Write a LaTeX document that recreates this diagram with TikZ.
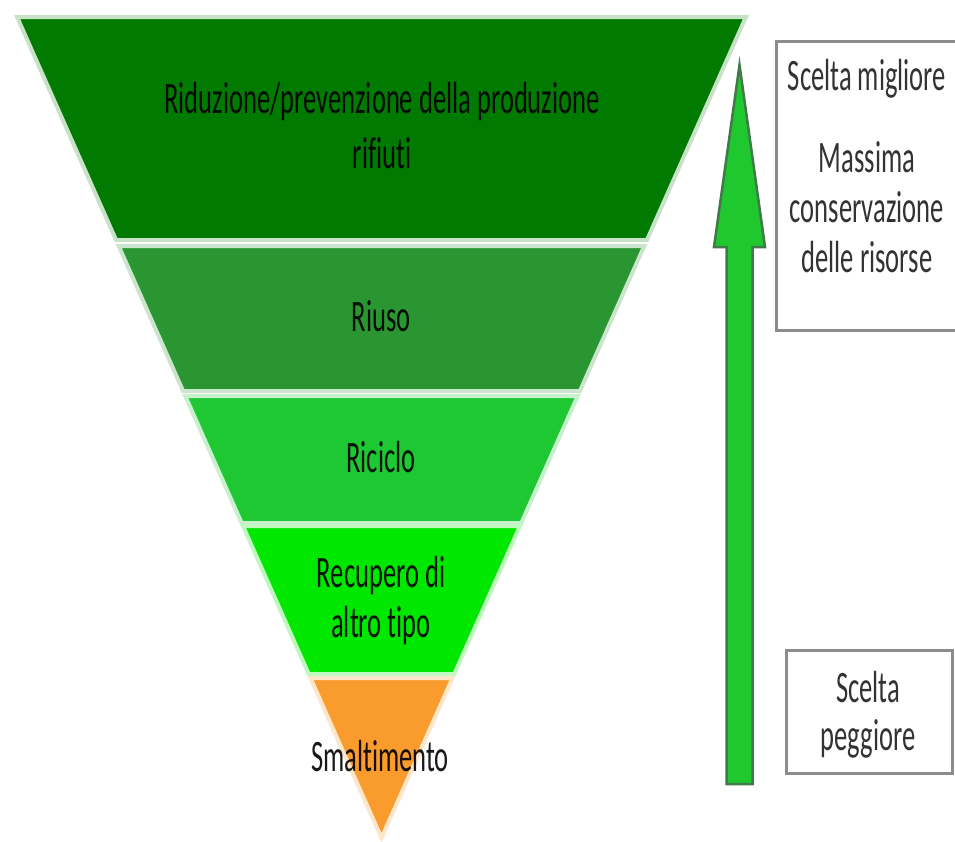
\documentclass[tikz,border=0pt]{standalone}
\usepackage{fontspec}
\setmainfont{Carlito}[Ligatures=NoCommon]
\usepackage{graphicx}
\newcommand{\sqz}[1]{\scalebox{0.59}[1]{#1}}
\definecolor{bandA}{HTML}{007A00}
\definecolor{bandB}{HTML}{2A9632}
\definecolor{bandC}{HTML}{1EC832}
\definecolor{bandD}{HTML}{00E800}
\definecolor{bandE}{HTML}{FA9C2D}
\definecolor{arrowfill}{HTML}{20C830}
\definecolor{arrowedge}{HTML}{3F7A48}
\definecolor{boxgray}{HTML}{8C8C8C}
\begin{document}
\begin{tikzpicture}[x=1pt,y=-1pt,
  band/.style={line width=4pt, line join=miter},
  lbl/.style={anchor=base, inner sep=0pt, font=\fontsize{45}{55}\selectfont, text=black, text opacity=0.9},
  boxlbl/.style={lbl, text=black!80, text opacity=1},
  sidebox/.style={draw=boxgray, line width=3pt, fill=white, inner sep=0pt},
  bigarrow/.style={fill=arrowfill, draw=arrowedge, line width=2.5pt, line join=miter}]
\useasboundingbox (0,0) rectangle (955,841);
\fill[white] (0,0) rectangle (955,841);
\clip (0,0) rectangle (955,841);
% pyramid bands
\filldraw[band, fill=bandA, draw=bandA!22!white] (17.11,17) -- (745.89,17) -- (646.92,240) -- (116.08,240) -- cycle;
\filldraw[band, fill=bandB, draw=bandB!25!white] (118.74,246) -- (644.26,246) -- (579.91,391) -- (183.09,391) -- cycle;
\filldraw[band, fill=bandC, draw=bandC!25!white] (185.31,396) -- (577.69,396) -- (521.32,523) -- (241.68,523) -- cycle;
\filldraw[band, fill=bandD, draw=bandD!25!white] (243.01,526) -- (519.99,526) -- (454.31,674) -- (308.69,674) -- cycle;
\filldraw[band, fill=bandE, draw=bandE!25!white] (310.46,678) -- (452.54,678) -- (381.5,838) -- cycle;
% labels
\node[lbl] (t1a) at (382,113) {\sqz{Riduzione/prevenzione della produzione}};
\node[lbl] (t1b) at (382,168) {\sqz{rifiuti}};
\node[lbl] (t2) at (381,331) {\sqz{Riuso}};
\node[lbl] (t3) at (381,472) {\sqz{Riciclo}};
\node[lbl] (t4a) at (381,587) {\sqz{Recupero di}};
\node[lbl] (t4b) at (381,637) {\sqz{altro tipo}};
\node[lbl] (t5) at (380,771) {\sqz{Smaltimento}};
% arrow
\filldraw[bigarrow] (739.5,65) -- (765,247) -- (752.5,247) -- (752.5,784) -- (726.5,784) -- (726.5,247) -- (714,247) -- cycle;
% side boxes
\node[sidebox, minimum width=183.5pt, minimum height=289pt] (best) at (868.25,185.5) {};
\node[sidebox, minimum width=166.5pt, minimum height=123.5pt] (worst) at (869.25,711.75) {};
\node[boxlbl] (b1) at (867,90) {\sqz{Scelta migliore}};
\node[boxlbl] (b2) at (867,172) {\sqz{Massima}};
\node[boxlbl] (b3) at (867,222) {\sqz{conservazione}};
\node[boxlbl] (b4) at (867,272) {\sqz{delle risorse}};
\node[boxlbl] (w1) at (868,702) {\sqz{Scelta}};
\node[boxlbl] (w2) at (868,750) {\sqz{peggiore}};
\end{tikzpicture}
\end{document}
